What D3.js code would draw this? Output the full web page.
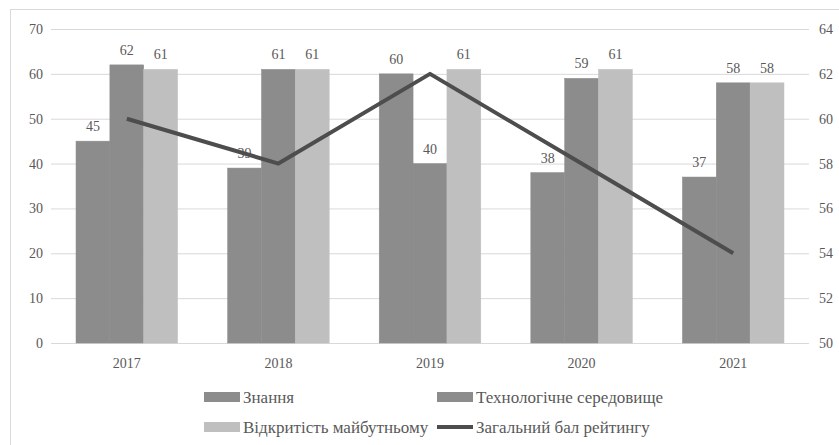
<!DOCTYPE html>
<meta charset="utf-8">
<style>
    body { margin: 0; background: #fff; }
    svg { display: block; }
    .grid line { stroke: #d9d9d9; stroke-width: 1; }
    .grid path { display: none; }
    .axis path, .axis line { display: none; }
</style>
<svg width="839" height="445"></svg>
<script src="https://d3js.org/d3.v7.min.js"></script>
<script>
    var years = ["2017", "2018", "2019", "2020", "2021"];
    var knowledge = [45, 39, 60, 38, 37];
    var technology = [62, 61, 40, 59, 58];
    var openness = [61, 61, 61, 61, 58];
    var overall = [60, 58, 62, 58, 54];
    var leftTicks = [0, 10, 20, 30, 40, 50, 60, 70];
    var rightTicks = [50, 52, 54, 56, 58, 60, 62, 64];

    var series = [
        { name: "Знання", values: knowledge, color: "#8c8c8c" },
        { name: "Технологічне середовище", values: technology, color: "#8c8c8c" },
        { name: "Відкритість майбутньому", values: openness, color: "#bfbfbf" }
    ];

    var serif = "'Liberation Serif', 'Times New Roman', serif";
    var svg = d3.select("svg");
    var plotLeft = 51, plotRight = 809, plotTop = 29, plotBottom = 343;

    // chart frame
    svg.append("rect")
        .attr("x", 10.5).attr("y", 9.5)
        .attr("width", 840).attr("height", 450)
        .attr("fill", "none").attr("stroke", "#d9d9d9");

    var x = d3.scaleBand().domain(years).range([plotLeft, plotRight]).paddingInner(0.33).paddingOuter(0.165);
    var xs = d3.scaleBand().domain(d3.range(series.length)).range([0, x.bandwidth()]);
    var y = d3.scaleLinear().domain([0, 70]).range([plotBottom, plotTop]);
    var y2 = d3.scaleLinear().domain([50, 64]).range([plotBottom, plotTop]);
    var xc = d3.scalePoint().domain(years).range([plotLeft, plotRight]).padding(0.5);

    svg.append("g").attr("class", "grid")
        .attr("transform", "translate(" + plotLeft + ",0)")
        .call(d3.axisLeft(y).tickValues(leftTicks).tickSize(-(plotRight - plotLeft)).tickFormat(""));

    function styleTicks(g) {
        g.attr("font-family", serif);
        g.selectAll("text")
            .style("font-family", serif)
            .style("font-size", "14px")
            .attr("fill", "#595959");
    }

    svg.append("g").attr("class", "axis")
        .attr("transform", "translate(" + plotLeft + ",0)")
        .call(d3.axisLeft(y).tickValues(leftTicks).tickSize(0).tickPadding(8))
        .call(styleTicks);

    svg.append("g").attr("class", "axis")
        .attr("transform", "translate(" + plotRight + ",0)")
        .call(d3.axisRight(y2).tickValues(rightTicks).tickSize(0).tickPadding(10))
        .call(styleTicks);

    svg.append("g").attr("class", "axis")
        .attr("transform", "translate(0," + plotBottom + ")")
        .call(d3.axisBottom(x).tickSize(0).tickPadding(15))
        .call(styleTicks);

    var groups = svg.append("g").selectAll("g")
        .data(series)
        .enter().append("g");

    groups.selectAll("rect")
        .data(function(s, i) {
            return s.values.map(function(v, j) { return { v: v, year: years[j], i: i, color: s.color }; });
        })
        .enter().append("rect")
        .attr("x", function(d) { return x(d.year) + xs(d.i); })
        .attr("y", function(d) { return y(d.v); })
        .attr("width", xs.bandwidth())
        .attr("height", function(d) { return plotBottom - y(d.v); })
        .attr("fill", function(d) { return d.color; })
        .attr("stroke", function(d) { return d.color; })
        .attr("stroke-width", 0.5);

    groups.selectAll("text")
        .data(function(s, i) {
            return s.values.map(function(v, j) { return { v: v, year: years[j], i: i }; });
        })
        .enter().append("text")
        .attr("x", function(d) { return x(d.year) + xs(d.i) + xs.bandwidth() / 2; })
        .attr("y", function(d) { return y(d.v) - 10; })
        .attr("text-anchor", "middle")
        .attr("fill", "#595959")
        .style("font-family", serif)
        .style("font-size", "14px")
        .text(function(d) { return d.v; });

    // shared line
    svg.append("path")
        .datum(overall)
        .attr("fill", "none")
        .attr("stroke", "#4d4d4d")
        .attr("stroke-width", 4)
        .attr("stroke-linejoin", "round")
        .attr("d", d3.line()
            .x(function(d, i) { return xc(years[i]); })
            .y(function(d) { return y2(d); }));

    // legend
    var legend = [
        { name: series[0].name, color: series[0].color, type: "bar", x: 204, y: 397 },
        { name: series[1].name, color: series[1].color, type: "bar", x: 437, y: 397 },
        { name: series[2].name, color: series[2].color, type: "bar", x: 204, y: 427 },
        { name: "Загальний бал рейтингу", color: "#4d4d4d", type: "line", x: 437, y: 427 }
    ];
    var lg = svg.append("g").selectAll("g").data(legend).enter().append("g")
        .attr("transform", function(d) { return "translate(" + d.x + "," + d.y + ")"; });
    lg.filter(function(d) { return d.type === "bar"; }).append("rect")
        .attr("x", 0).attr("y", -5).attr("width", 36).attr("height", 10)
        .attr("fill", function(d) { return d.color; });
    lg.filter(function(d) { return d.type === "line"; }).append("line")
        .attr("x1", 0).attr("x2", 36).attr("y1", 0).attr("y2", 0)
        .attr("stroke", function(d) { return d.color; }).attr("stroke-width", 4);
    lg.append("text")
        .attr("x", 39).attr("y", 6)
        .attr("fill", "#595959")
        .style("font-family", serif)
        .style("font-size", "17px")
        .text(function(d) { return d.name; });
</script>
